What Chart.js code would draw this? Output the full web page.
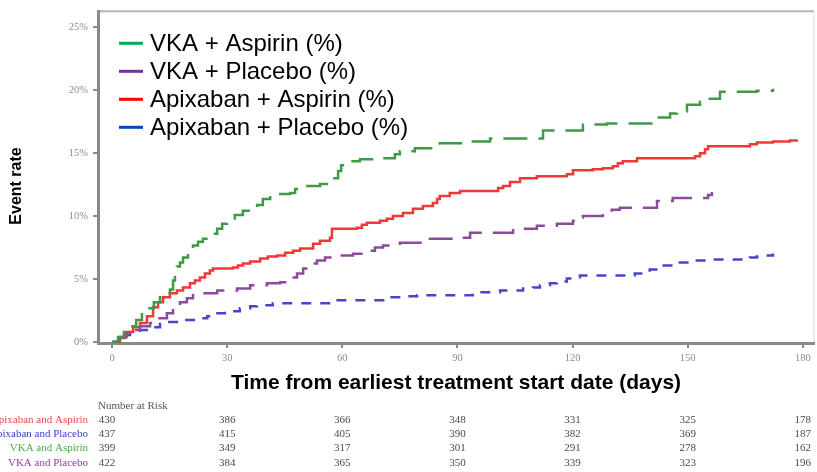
<!DOCTYPE html>
<html>
<head>
<meta charset="utf-8">
<script src="https://cdn.jsdelivr.net/npm/chart.js@4.4.1/dist/chart.umd.min.js"></script>
<style>
  html, body { margin: 0; padding: 0; background: #ffffff; }
  #wrap { position: relative; width: 817px; height: 472px; }
</style>
</head>
<body>
<div id="wrap"><canvas id="km"></canvas></div>
<script>
// Cumulative event rate (%) by day since earliest treatment start, one curve per arm
const seriesLabels = ['VKA + Aspirin (%)', 'VKA + Placebo (%)', 'Apixaban + Aspirin (%)', 'Apixaban + Placebo (%)'];

const vkaAspirinDays  = [0, 1.6, 3.1, 4.7, 6.3, 7.8, 9.4, 10.9, 12.5, 13.8, 15.1, 15.9, 16.4, 16.9, 17.7, 18.5, 19.8, 21.1, 22.4, 23.7, 25.5, 27.4, 28.7, 30.0, 32.0, 34.1, 36.0, 37.8, 39.3, 41.2, 46.4, 47.7, 49.0, 54.2, 56.0, 57.6, 58.9, 59.7, 60.7, 64.6, 70.6, 73.7, 75.0, 78.9, 85.4, 94.0, 98.5, 112.3, 122.7, 128.9, 142.0, 145.4, 147.2, 149.8, 153.2, 155.0, 158.4, 168.0, 172.2];
const vkaAspirinRates = [0, 0.39, 0.79, 1.26, 1.74, 2.21, 2.68, 3.16, 3.55, 3.87, 4.18, 4.89, 5.52, 6.00, 6.31, 6.71, 7.26, 7.66, 7.97, 8.21, 8.60, 9.00, 9.39, 9.63, 10.10, 10.42, 10.66, 10.89, 11.37, 11.76, 11.84, 12.15, 12.39, 12.55, 12.79, 13.02, 13.58, 14.05, 14.36, 14.52, 14.60, 14.92, 15.15, 15.39, 15.79, 15.94, 16.18, 16.81, 17.29, 17.36, 17.84, 18.15, 18.31, 18.86, 19.10, 19.34, 19.89, 19.97, 20.13];

const vkaPlaceboDays  = [0, 1.6, 3.4, 5.5, 7.3, 9.9, 12.0, 14.3, 15.9, 17.7, 19.5, 21.1, 22.9, 27.4, 32.6, 36.0, 40.4, 43.8, 45.6, 46.4, 48.2, 49.8, 51.6, 53.4, 55.5, 57.6, 62.8, 66.4, 68.5, 70.6, 72.4, 75.0, 82.1, 90.7, 93.3, 104.5, 110.7, 115.9, 120.1, 121.9, 122.7, 127.9, 130.2, 132.3, 142.0, 146.1, 155.3, 156.3];
const vkaPlaceboRates = [0, 0.32, 0.63, 0.95, 1.26, 1.50, 1.89, 2.29, 2.76, 3.16, 3.47, 3.71, 3.87, 4.10, 4.26, 4.50, 4.66, 4.74, 4.97, 5.13, 5.45, 5.84, 6.24, 6.47, 6.71, 6.87, 7.02, 7.26, 7.50, 7.66, 7.81, 7.89, 8.21, 8.29, 8.68, 9.00, 9.23, 9.39, 9.63, 9.87, 10.02, 10.26, 10.50, 10.66, 11.21, 11.44, 11.68, 11.92];

const apixAspirinDays  = [0, 2.1, 3.9, 5.5, 7.3, 9.1, 10.7, 12.0, 13.3, 15.1, 16.9, 18.5, 20.3, 21.6, 22.9, 24.2, 25.5, 26.3, 31.5, 32.8, 34.1, 36.0, 38.6, 40.6, 43.0, 45.1, 47.2, 49.0, 52.4, 54.2, 56.8, 57.3, 63.8, 65.1, 66.4, 69.8, 71.6, 73.2, 75.8, 78.4, 81.0, 83.6, 84.7, 85.4, 88.0, 90.7, 100.6, 101.9, 103.7, 106.3, 110.7, 118.5, 120.1, 125.3, 127.9, 130.5, 131.8, 133.1, 136.8, 151.9, 153.2, 154.5, 155.3, 166.2, 168.0, 172.2, 176.6, 178.4];
const apixAspirinRates = [0, 0.39, 0.79, 1.18, 1.50, 2.05, 2.76, 3.16, 3.55, 3.87, 4.10, 4.34, 4.66, 4.89, 5.13, 5.45, 5.68, 5.84, 5.92, 6.08, 6.24, 6.39, 6.63, 6.79, 6.87, 7.10, 7.26, 7.42, 7.81, 8.05, 8.29, 9.00, 9.08, 9.31, 9.47, 9.63, 9.79, 10.02, 10.26, 10.58, 10.81, 11.05, 11.37, 11.60, 11.84, 12.00, 12.23, 12.39, 12.71, 13.02, 13.18, 13.34, 13.65, 13.73, 13.81, 13.97, 14.21, 14.36, 14.60, 14.76, 15.00, 15.31, 15.55, 15.71, 15.86, 15.94, 16.02, 16.10];

const apixPlaceboDays  = [0, 1.6, 3.1, 4.7, 7.3, 9.9, 12.5, 14.3, 18.5, 22.9, 24.8, 26.3, 29.4, 33.3, 36.0, 37.8, 41.9, 57.6, 72.4, 76.3, 79.5, 94.0, 101.1, 107.1, 109.7, 111.5, 114.1, 115.9, 118.5, 120.1, 121.9, 136.2, 138.3, 140.1, 142.8, 146.1, 150.6, 155.0, 166.2, 168.0, 170.1, 172.2];
const apixPlaceboRates = [0, 0.32, 0.55, 0.79, 0.95, 1.18, 1.42, 1.58, 1.74, 1.89, 2.05, 2.29, 2.45, 2.68, 2.84, 2.92, 3.08, 3.31, 3.55, 3.63, 3.71, 3.95, 4.10, 4.26, 4.34, 4.50, 4.66, 4.81, 5.05, 5.13, 5.29, 5.45, 5.52, 5.76, 6.08, 6.31, 6.47, 6.55, 6.71, 6.79, 6.87, 7.03];

// Axis ticks
const dayTicks = [0, 30, 60, 90, 120, 150, 180];
const rateTicks = [0, 5, 10, 15, 20, 25];

// Number at risk table
const riskDays = [0, 30, 60, 90, 120, 150, 180];
const riskGroups = ['Apixaban and Aspirin', 'Apixaban and Placebo', 'VKA and Aspirin', 'VKA and Placebo'];
const riskApixabanAspirin = [430, 386, 366, 348, 331, 325, 178];
const riskApixabanPlacebo = [437, 415, 405, 390, 382, 369, 187];
const riskVkaAspirin      = [399, 349, 317, 301, 291, 278, 162];
const riskVkaPlacebo      = [422, 384, 365, 350, 339, 323, 196];

// Styles
const lineColors   = ['#3f9a45', '#8b4c9b', '#f03838', '#4646cc'];
const legendColors = ['#00b050', '#7030a0', '#ff0000', '#0047bb'];
const lineDashes   = [[24, 11], [24, 11], [], [10, 9]];
const riskColors   = ['#ee4a4a', '#3c3cd0', '#44b044', '#9040a0'];

const toPoints = (days, rates) => days.map((d, i) => ({ x: d, y: rates[i] }));
const curves = [
  toPoints(vkaAspirinDays, vkaAspirinRates),
  toPoints(vkaPlaceboDays, vkaPlaceboRates),
  toPoints(apixAspirinDays, apixAspirinRates),
  toPoints(apixPlaceboDays, apixPlaceboRates)
];
const riskRows = [riskApixabanAspirin, riskApixabanPlacebo, riskVkaAspirin, riskVkaPlacebo];

const SANS = '"Liberation Sans", Arial, sans-serif';
const SERIF = '"Liberation Serif", "Times New Roman", serif';

const decor = {
  id: 'kmDecor',
  beforeDraw(chart) {
    const { ctx, chartArea: a } = chart;
    ctx.save();
    // upper and right frame edges
    ctx.strokeStyle = '#b4b4b4';
    ctx.lineWidth = 2;
    ctx.beginPath();
    ctx.moveTo(a.left, a.top);
    ctx.lineTo(a.right, a.top);
    ctx.stroke();
    ctx.strokeStyle = '#e6e6e6';
    ctx.lineWidth = 1.5;
    ctx.beginPath();
    ctx.moveTo(a.right, a.top);
    ctx.lineTo(a.right, a.bottom);
    ctx.stroke();
    ctx.restore();
    ctx.filter = 'blur(0.5px)';
  },
  afterDatasetsDraw(chart) {
    chart.ctx.filter = 'none';
  },
  afterDraw(chart) {
    const { ctx, chartArea: a, scales } = chart;
    const xs = scales.x;
    ctx.save();
    ctx.filter = 'none';

    // legend inside the plot
    ctx.font = '24px ' + SANS;
    ctx.textBaseline = 'middle';
    ctx.textAlign = 'left';
    chart.data.datasets.forEach((ds, i) => {
      const y = a.top + 32 + i * 28;
      ctx.fillStyle = legendColors[i];
      ctx.fillRect(a.left + 21, y - 1.5, 24, 3);
      ctx.fillStyle = '#000000';
      ctx.fillText(ds.label, a.left + 52, y + 1);
    });

    // axis titles
    ctx.fillStyle = '#000000';
    ctx.font = 'bold 21px ' + SANS;
    ctx.textAlign = 'center';
    ctx.fillText('Time from earliest treatment start date (days)', (a.left + a.right) / 2, 383);
    ctx.save();
    ctx.translate(17, 186);
    ctx.rotate(-Math.PI / 2);
    ctx.font = 'bold 16px ' + SANS;
    ctx.fillText('Event rate', 0, 0);
    ctx.restore();

    // number at risk table
    ctx.filter = 'blur(0.6px)';
    ctx.font = '11px ' + SERIF;
    ctx.textAlign = 'left';
    ctx.fillStyle = '#555555';
    ctx.fillText('Number at Risk', a.left, 406);
    riskRows.forEach((row, r) => {
      const y = 420 + r * 14.3;
      ctx.textAlign = 'right';
      ctx.fillStyle = riskColors[r];
      ctx.fillText(riskGroups[r], 88, y);
      ctx.textAlign = 'center';
      ctx.fillStyle = '#4a4a4a';
      row.forEach((n, c) => {
        let x = xs.getPixelForValue(riskDays[c]);
        if (c === 0) x -= 5;
        ctx.fillText(String(n), x, y);
      });
    });
    ctx.restore();
  }
};

new Chart(document.getElementById('km'), {
  type: 'line',
  data: {
    datasets: curves.map((pts, i) => ({
      label: seriesLabels[i],
      data: pts,
      borderColor: lineColors[i],
      backgroundColor: lineColors[i],
      borderDash: lineDashes[i],
      borderWidth: 2.5,
      stepped: 'before',
      pointRadius: 0,
      fill: false
    }))
  },
  options: {
    responsive: true,
    maintainAspectRatio: false,
    animation: false,
    layout: { padding: { top: 9, right: 3, left: 0, bottom: 0 } },
    plugins: { legend: { display: false }, tooltip: { enabled: false } },
    scales: {
      x: {
        type: 'linear',
        min: -3.65,
        max: 182.9,
        afterBuildTicks: s => { s.ticks = dayTicks.map(v => ({ value: v })); },
        afterFit: s => { s.height = 129; },
        grid: { drawOnChartArea: false, drawTicks: true, tickLength: 5, color: '#8a8a8a', lineWidth: 2 },
        border: { display: true, color: '#8a8a8a', width: 3 },
        ticks: { font: { family: SERIF, size: 10.5 }, color: '#8c8c8c', padding: 4, maxRotation: 0, autoSkip: false }
      },
      y: {
        type: 'linear',
        min: -0.08,
        max: 26.28,
        afterBuildTicks: s => { s.ticks = rateTicks.map(v => ({ value: v })); },
        afterFit: s => { s.width = 98; },
        grid: { drawOnChartArea: false, drawTicks: true, tickLength: 5, color: '#8a8a8a', lineWidth: 2 },
        border: { display: true, color: '#8a8a8a', width: 3 },
        ticks: { font: { family: SERIF, size: 10.5 }, color: '#8c8c8c', padding: 5, callback: v => v + '%' }
      }
    }
  },
  plugins: [decor]
});
</script>
</body>
</html>
